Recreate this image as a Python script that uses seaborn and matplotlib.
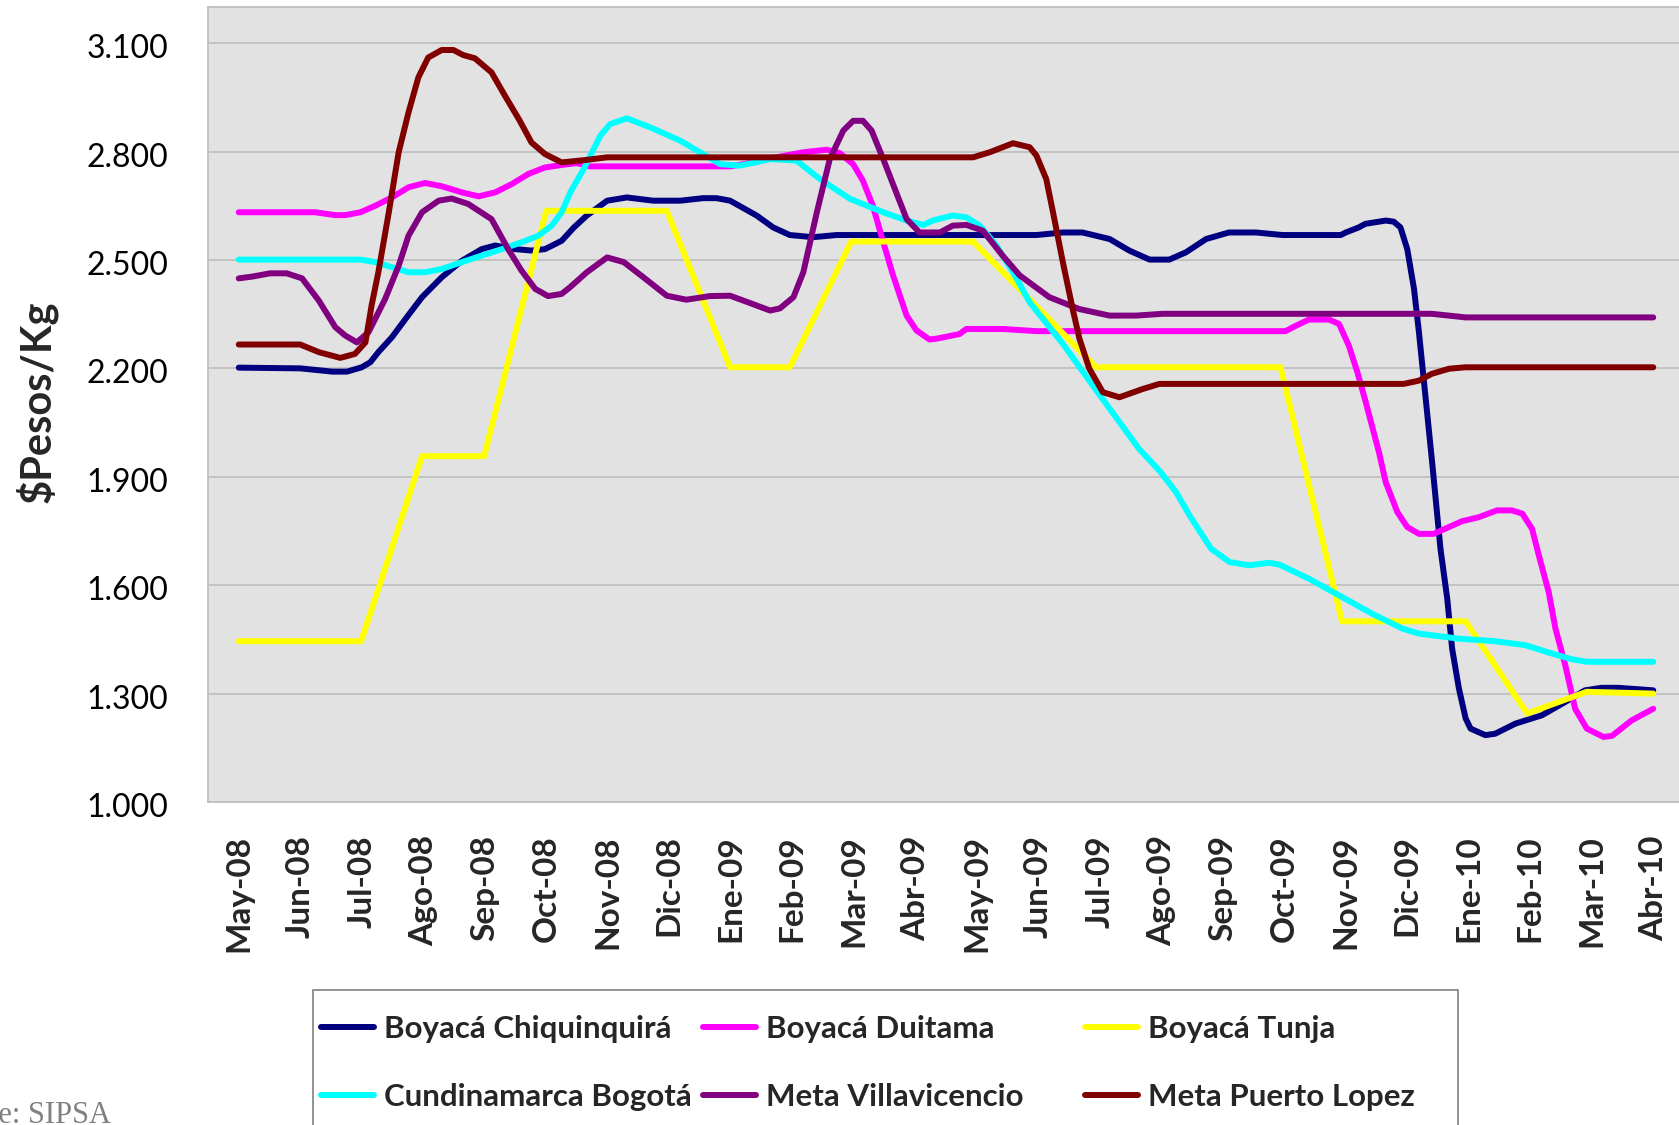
import numpy as np
import pandas as pd
import matplotlib
matplotlib.use("Agg")
import matplotlib.pyplot as plt
import matplotlib.transforms as mtransforms
from matplotlib.lines import Line2D
from matplotlib.patches import Rectangle
from matplotlib.ticker import FuncFormatter
import seaborn as sns

# ---------------- data (x = months since May-08) ----------------
meses = ["May-08", "Jun-08", "Jul-08", "Ago-08", "Sep-08", "Oct-08", "Nov-08", "Dic-08",
         "Ene-09", "Feb-09", "Mar-09", "Abr-09", "May-09", "Jun-09", "Jul-09", "Ago-09",
         "Sep-09", "Oct-09", "Nov-09", "Dic-09", "Ene-10", "Feb-10", "Mar-10", "Abr-10"]

series_names = ["Boyacá Chiquinquirá", "Boyacá Duitama", "Boyacá Tunja",
                "Cundinamarca Bogotá", "Meta Villavicencio", "Meta Puerto Lopez"]
series_colors = ["#000080", "#FF00FF", "#FFFF00", "#00FFFF", "#800080", "#800000"]

chiq_x = [0, 1.0, 1.52, 1.76, 2.0, 2.14, 2.27, 2.49, 2.73, 2.98, 3.30, 3.63, 3.95, 4.17, 4.49,
          4.76, 4.98, 5.25, 5.45, 5.66, 5.99, 6.31, 6.74, 7.18, 7.55, 7.77, 7.99, 8.42, 8.69,
          8.96, 9.34, 9.72, 12.97, 13.40, 13.72, 14.16, 14.48, 14.81, 15.13, 15.40, 15.73,
          16.10, 16.54, 16.97, 17.92, 18.0, 18.21, 18.32, 18.65, 18.78, 18.89, 19.0, 19.11,
          19.19, 19.30, 19.41, 19.54, 19.65, 19.73, 19.84, 19.95, 20.03, 20.27, 20.43, 20.76,
          21.19, 21.52, 21.89, 22.16, 22.43, 23.0]
chiq_y = [2202, 2200, 2191, 2191, 2203, 2217, 2245, 2286, 2341, 2397, 2452, 2498, 2530, 2540, 2530,
          2526, 2530, 2553, 2590, 2623, 2664, 2673, 2664, 2664, 2671, 2671, 2664, 2623, 2590,
          2569, 2563, 2569, 2569, 2576, 2576, 2558, 2526, 2501, 2501, 2521, 2558,
          2576, 2576, 2569, 2569, 2576, 2590, 2600, 2609, 2606, 2590, 2530, 2420,
          2300, 2116, 1931, 1701, 1563, 1424, 1314, 1231, 1203, 1185, 1189, 1217,
          1240, 1272, 1309, 1316, 1316, 1309]

duit_x = [0, 1.24, 1.57, 1.73, 1.98, 2.22, 2.49, 2.76, 3.03, 3.30, 3.63, 3.90, 4.17, 4.44, 4.71,
          4.98, 5.30, 5.50, 5.71, 8.0, 8.20, 8.74, 9.18, 9.56, 9.77, 9.99, 10.15, 10.31, 10.48,
          10.64, 10.86, 11.02, 11.23, 11.34, 11.72, 11.83, 12.42, 12.97, 17.02, 17.19, 17.40,
          17.73, 17.89, 18.05, 18.19, 18.31, 18.54, 18.65, 18.84, 19.0, 19.19, 19.43, 19.68,
          19.89, 20.16, 20.46, 20.70, 20.87, 21.03, 21.14, 21.30, 21.41, 21.57, 21.73, 21.92,
          22.19, 22.33, 22.65, 23.0]
duit_y = [2632, 2632, 2624, 2624, 2632, 2650, 2673, 2701, 2713, 2704, 2687, 2676, 2687, 2710, 2738,
          2756, 2764, 2768, 2759, 2759, 2765, 2784, 2798, 2805, 2796, 2765, 2719, 2650, 2549,
          2457, 2346, 2305, 2280, 2282, 2295, 2309, 2309, 2303, 2303, 2318, 2335,
          2335, 2323, 2263, 2189, 2116, 1968, 1885, 1802, 1761, 1742, 1742, 1761,
          1777, 1788, 1807, 1807, 1798, 1756, 1682, 1581, 1480, 1378, 1258, 1203,
          1180, 1183, 1226, 1258]

tunja_x = [0, 1.99, 2.98, 3.99, 5.0, 6.96, 7.99, 8.96, 9.96, 11.94, 13.94, 16.94, 17.94,
           19.95, 20.95, 21.92, 23.0]
tunja_y = [1445, 1445, 1957, 1957, 2636, 2636, 2203, 2203, 2551, 2551, 2203, 2203, 1500,
           1500, 1245, 1305, 1300]

bogo_x = [0, 1.98, 2.22, 2.49, 2.76, 3.03, 3.30, 3.63, 3.95, 4.28, 4.60, 4.87, 5.09, 5.25, 5.40,
          5.61, 5.88, 6.04, 6.31, 6.69, 7.18, 7.55, 7.83, 8.15, 8.64, 9.07, 9.45, 9.94, 10.48,
          10.86, 11.13, 11.30, 11.61, 11.83, 12.05, 12.32, 12.59, 12.86, 13.40, 13.94, 14.64,
          14.97, 15.24, 15.46, 15.81, 16.11, 16.43, 16.75, 16.92, 17.40, 17.89, 18.43, 18.92,
          19.19, 19.84, 20.43, 20.92, 21.35, 21.68, 21.92, 23.0]
bogo_y = [2501, 2501, 2494, 2480, 2466, 2466, 2475, 2494, 2512, 2530, 2549, 2567, 2595, 2632, 2690,
          2752, 2844, 2876, 2892, 2867, 2830, 2793, 2765, 2761, 2779, 2775, 2724, 2669, 2632,
          2609, 2597, 2610, 2623, 2618, 2595, 2540, 2466, 2383, 2268, 2140, 1977,
          1917, 1858, 1793, 1701, 1664, 1655, 1662, 1657, 1618, 1572, 1521, 1480,
          1466, 1452, 1445, 1434, 1411, 1395, 1388, 1388]

villa_x = [0, 0.22, 0.51, 0.78, 1.03, 1.30, 1.57, 1.73, 1.92, 2.11, 2.38, 2.60, 2.76, 2.98, 3.25,
           3.46, 3.73, 4.11, 4.38, 4.60, 4.82, 5.03, 5.25, 5.39, 5.66, 5.99, 6.26, 6.58, 6.96,
           7.28, 7.66, 7.99, 8.31, 8.64, 8.80, 9.02, 9.18, 9.40, 9.61, 9.83, 9.99, 10.15, 10.29,
           10.48, 10.69, 10.86, 11.07, 11.40, 11.61, 11.83, 12.10, 12.42, 12.70, 13.18, 13.67,
           14.16, 14.59, 15.02, 19.40, 19.95, 23.0]
villa_y = [2449, 2454, 2463, 2463, 2449, 2388, 2314, 2291, 2272, 2300, 2392, 2484, 2567, 2632, 2664,
           2670, 2655, 2613, 2530, 2470, 2420, 2400, 2406, 2425, 2466, 2507, 2494, 2452, 2401,
           2390, 2400, 2401, 2381, 2360, 2366, 2397, 2466, 2632, 2779, 2858, 2885, 2885, 2858,
           2779, 2687, 2613, 2576, 2576, 2595, 2597, 2581, 2512, 2457, 2397, 2364,
           2346, 2346, 2351, 2351, 2341, 2341]

plopez_x = [0, 1.0, 1.30, 1.65, 1.89, 2.06, 2.16, 2.27, 2.44, 2.60, 2.76, 2.92, 3.08, 3.30, 3.49,
            3.65, 3.84, 4.11, 4.33, 4.57, 4.76, 4.98, 5.25, 5.66, 5.99, 11.94, 12.21, 12.59,
            12.86, 12.97, 13.13, 13.24, 13.40, 13.56, 13.67, 13.83, 14.05, 14.32, 14.70, 14.97,
            18.94, 19.19, 19.40, 19.68, 19.95, 23.0]
plopez_y = [2266, 2266, 2245, 2229, 2240, 2272, 2374, 2466, 2632, 2798, 2908, 3005, 3060, 3081, 3081,
            3067, 3058, 3019, 2954, 2885, 2825, 2793, 2770, 2777, 2784, 2784, 2798, 2823,
            2812, 2789, 2724, 2632, 2494, 2364, 2282, 2199, 2134, 2120, 2143, 2157,
            2157, 2166, 2185, 2199, 2203, 2203]

y_ticks = [1000, 1300, 1600, 1900, 2200, 2500, 2800, 3100]

# ---------------- build long table ----------------
xs = [chiq_x, duit_x, tunja_x, bogo_x, villa_x, plopez_x]
ys = [chiq_y, duit_y, tunja_y, bogo_y, villa_y, plopez_y]
frames = []
for name, x, y in zip(series_names, xs, ys):
    frames.append(pd.DataFrame({"mes": x, "precio": y, "serie": name}))
df = pd.concat(frames, ignore_index=True)

# ---------------- style ----------------
sns.set_style("white")
plt.rcParams["font.family"] = ["Lato", "DejaVu Sans"]

W, H = 1679, 1125
fig = plt.figure(figsize=(W / 100, H / 100), dpi=100)
fig.patch.set_facecolor("white")

ax_left, ax_right, ax_top, ax_bottom = 208, 1684, 7, 802
ax = fig.add_axes([ax_left / W, 1 - ax_bottom / H, (ax_right - ax_left) / W, (ax_bottom - ax_top) / H])
ax.set_facecolor("#e2e2e2")

sns.lineplot(data=df, x="mes", y="precio", hue="serie", hue_order=series_names,
             palette=dict(zip(series_names, series_colors)), estimator=None, sort=False,
             linewidth=4.3, legend=False, ax=ax,
             solid_capstyle="round", solid_joinstyle="round")

ax.set_xlim(-0.5, 23.5)
ax.set_ylim(1000, 3200)

ax.set_yticks(y_ticks)
ax.yaxis.set_major_formatter(FuncFormatter(lambda v, p: f"{int(v):,}".replace(",", ".")))
ax.grid(axis="y", color="#c0c0c0", linewidth=1.3)
ax.grid(axis="x", visible=False)
ax.set_axisbelow(True)

ax.set_xticks(range(len(meses)))
ax.set_xticklabels(meses, rotation=90, fontweight="bold", fontsize=24)
ax.set_xticks(np.arange(-0.5, 24, 1.0), minor=True)
ax.tick_params(axis="x", which="major", length=0, pad=24)
ax.tick_params(axis="x", which="minor", length=7.5, width=1.2, color="#bfbfbf", direction="out")
ax.tick_params(axis="y", which="major", length=7.5, width=1.2, color="#bfbfbf", direction="out",
               labelsize=23, pad=21)
shift = mtransforms.ScaledTranslation(0, -3 / 100, fig.dpi_scale_trans)
for lab in ax.get_yticklabels():
    lab.set_color("black")
    lab.set_transform(lab.get_transform() + shift)

for side in ["left", "bottom", "top"]:
    ax.spines[side].set_visible(True)
    ax.spines[side].set_color("#bfbfbf")
    ax.spines[side].set_linewidth(1.3)
ax.spines["right"].set_visible(False)

ax.set_xlabel("")
ax.set_ylabel("")
fig.text(36 / W, 1 - 402 / H, "$Pesos/Kg", rotation=90, ha="center", va="center",
         fontsize=30, fontweight="bold")

# ---------------- legend ----------------
fig.patches.append(Rectangle((313 / W, 1 - 1140 / H), (1458 - 313) / W, (1140 - 990) / H,
                             transform=fig.transFigure, fill=False, edgecolor="#808080",
                             linewidth=1.2))
col_x = [321, 703, 1085]
for c in range(3):
    idx = [c, c + 3]
    handles = [Line2D([0], [0], color=series_colors[i], lw=4.3, solid_capstyle="round") for i in idx]
    labels = [series_names[i] for i in idx]
    fig.legend(handles, labels, loc="upper left", bbox_to_anchor=(col_x[c] / W, 1 - 1015 / H),
               frameon=False, borderpad=0, borderaxespad=0, handlelength=1.7,
               handletextpad=0.3, labelspacing=1.28,
               prop={"family": ["Lato", "DejaVu Sans"], "weight": "bold", "size": 22.5})

# source note (cut at the left edge, as in the original)
fig.text(111 / W, 1 - 1123 / H, "Fuente: SIPSA", ha="right", va="baseline",
         fontsize=22, color="#808080", family=["Liberation Serif", "DejaVu Serif"])

fig.savefig("out.png", dpi=100, facecolor="white")
